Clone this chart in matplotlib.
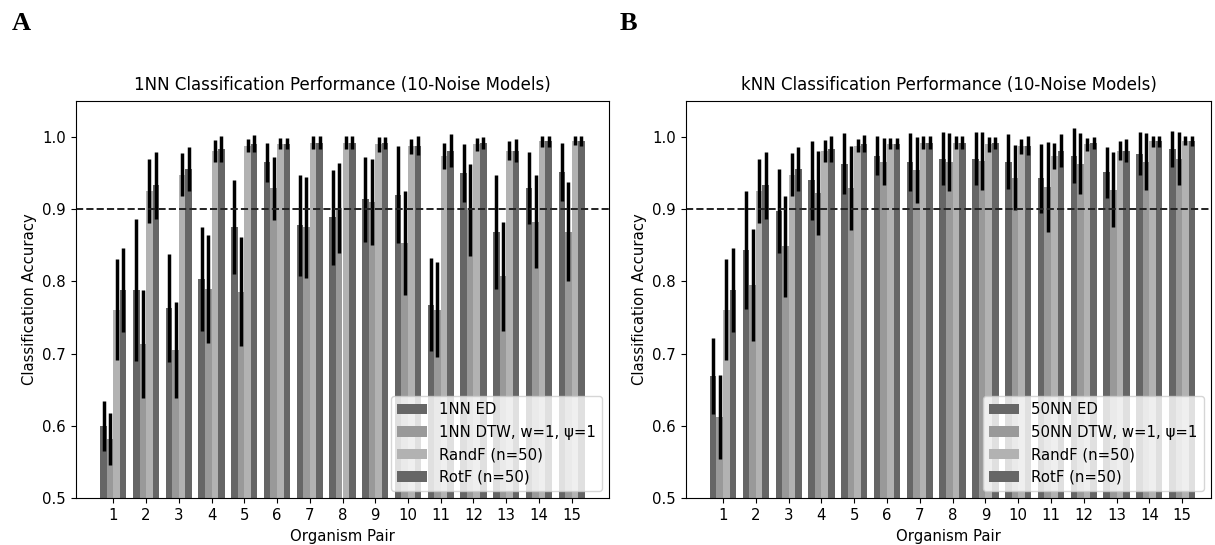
import matplotlib.pyplot as plt
import numpy as np

pairs = np.arange(1, 16)

# 1NN panel
ed_1nn = [0.600, 0.788, 0.763, 0.804, 0.876, 0.965, 0.878, 0.889, 0.914, 0.920, 0.768, 0.950, 0.868, 0.930, 0.952]
ed_1nn_err = [0.035, 0.098, 0.075, 0.072, 0.065, 0.027, 0.070, 0.066, 0.059, 0.067, 0.064, 0.040, 0.079, 0.050, 0.040]
dtw_1nn = [0.582, 0.713, 0.705, 0.790, 0.786, 0.929, 0.875, 0.902, 0.910, 0.853, 0.761, 0.899, 0.807, 0.883, 0.869]
dtw_1nn_err = [0.036, 0.075, 0.066, 0.075, 0.076, 0.044, 0.070, 0.062, 0.060, 0.072, 0.066, 0.064, 0.076, 0.065, 0.069]

# 50NN panel
ed_knn = [0.669, 0.844, 0.898, 0.940, 0.963, 0.974, 0.965, 0.970, 0.970, 0.966, 0.943, 0.974, 0.951, 0.977, 0.983]
ed_knn_err = [0.053, 0.082, 0.058, 0.055, 0.042, 0.027, 0.040, 0.037, 0.037, 0.038, 0.048, 0.038, 0.035, 0.030, 0.025]
dtw_knn = [0.612, 0.795, 0.849, 0.923, 0.929, 0.966, 0.954, 0.965, 0.967, 0.944, 0.931, 0.963, 0.927, 0.966, 0.970]
dtw_knn_err = [0.058, 0.077, 0.070, 0.058, 0.058, 0.033, 0.046, 0.040, 0.040, 0.045, 0.062, 0.042, 0.052, 0.039, 0.037]

# forests are shared by both panels
randf = [0.761, 0.925, 0.948, 0.981, 0.988, 0.991, 0.992, 0.992, 0.990, 0.987, 0.974, 0.990, 0.981, 0.994, 0.995]
randf_err = [0.070, 0.044, 0.030, 0.015, 0.009, 0.008, 0.009, 0.009, 0.010, 0.010, 0.018, 0.009, 0.013, 0.008, 0.006]
rotf = [0.788, 0.933, 0.956, 0.984, 0.991, 0.991, 0.992, 0.992, 0.992, 0.988, 0.981, 0.992, 0.981, 0.994, 0.995]
rotf_err = [0.058, 0.047, 0.030, 0.018, 0.012, 0.008, 0.009, 0.009, 0.008, 0.013, 0.023, 0.008, 0.016, 0.008, 0.007]

colors = ["#666666", "#999999", "#b2b2b2", "#666666"]
width = 0.2
offsets = [-0.3, -0.1, 0.1, 0.3]

plt.rcParams.update({
    "font.size": 10.75,
    "xtick.major.size": 3.8,
    "ytick.major.size": 3.8,
})


def panel(ax, series, errs, labels, title):
    for k in range(4):
        ax.bar(pairs + offsets[k], series[k], width, yerr=errs[k], color=colors[k],
               label=labels[k], error_kw=dict(ecolor="black", elinewidth=2.5, capsize=0))
    ax.axhline(0.9, color="#222222", linestyle="--", linewidth=1.4)
    ax.set_ylim(0.5, 1.05)
    ax.set_xticks(pairs)
    ax.set_yticks([0.5, 0.6, 0.7, 0.8, 0.9, 1.0])
    ax.set_xlabel("Organism Pair")
    ax.set_ylabel("Classification Accuracy")
    ax.set_title(title, fontsize=12, pad=8)
    ax.legend(loc="lower right")


fig = plt.figure(figsize=(12.15, 5.45), dpi=100)
ax1 = fig.add_axes([76 / 1215, 1 - 498 / 545, 533 / 1215, 397 / 545])
ax2 = fig.add_axes([686 / 1215, 1 - 498 / 545, 525 / 1215, 397 / 545])

panel(ax1, [ed_1nn, dtw_1nn, randf, rotf], [ed_1nn_err, dtw_1nn_err, randf_err, rotf_err],
      ["1NN ED", "1NN DTW, w=1, \u03c8=1", "RandF (n=50)", "RotF (n=50)"],
      "1NN Classification Performance (10-Noise Models)")
panel(ax2, [ed_knn, dtw_knn, randf, rotf], [ed_knn_err, dtw_knn_err, randf_err, rotf_err],
      ["50NN ED", "50NN DTW, w=1, \u03c8=1", "RandF (n=50)", "RotF (n=50)"],
      "kNN Classification Performance (10-Noise Models)")
ax2.set_xlim(-0.13, 15.88)

fig.text(12 / 1215, 1 - 23 / 545, "A", fontsize=19, fontweight="bold",
         family="Liberation Serif", va="center")
fig.text(620 / 1215, 1 - 23 / 545, "B", fontsize=19, fontweight="bold",
         family="Liberation Serif", va="center")

plt.savefig("out.png", dpi=100)
